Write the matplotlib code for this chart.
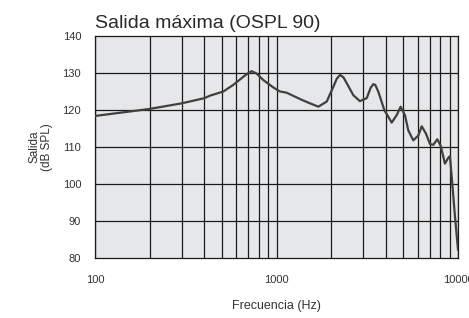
import matplotlib
matplotlib.use("Agg")
import matplotlib.pyplot as plt

plt.rcParams['font.family'] = ['Liberation Sans', 'DejaVu Sans']

# Values
freq = [100, 150, 200, 300, 400, 431, 509, 578, 657, 700, 730, 775, 846, 960,
        1045, 1135, 1265, 1400, 1496, 1700, 1892, 2056, 2150, 2240, 2340, 2440,
        2650, 2880, 3140, 3300, 3415, 3500, 3635, 3925, 4310, 4590, 4830, 5100,
        5320, 5670, 6040, 6310, 6660, 7010, 7310, 7690, 8030, 8470, 8840, 9030,
        9230, 9620, 10000]
level = [118.4, 119.5, 120.3, 121.8, 123.2, 123.9, 125.0, 126.8, 129.0, 130.0,
         130.5, 129.9, 128.1, 126.1, 125.0, 124.7, 123.6, 122.6, 122.0, 120.9,
         122.3, 126.3, 128.5, 129.5, 128.8, 127.2, 124.0, 122.4, 123.2, 126.0,
         127.0, 126.8, 125.0, 120.0, 116.6, 118.6, 120.9, 118.6, 114.5, 111.8,
         113.1, 115.6, 113.6, 110.8, 110.6, 112.1, 110.3, 105.5, 107.1, 107.5,
         102.0, 91.2, 82.2]

yticks = [80, 90, 100, 110, 120, 130, 140]
xticks = [100, 1000, 10000]
xtick_labels = ['100', '1000', '10000']
minor_x = [200, 300, 400, 500, 600, 700, 800, 900,
           2000, 3000, 4000, 5000, 6000, 7000, 8000, 9000]

fig = plt.figure(figsize=(4.69, 3.18), dpi=100)
ax = fig.add_axes([0.2026, 0.1887, 0.774, 0.698])
ax.set_facecolor('#e6e7e8')

ax.set_xscale('log')
ax.set_xlim(100, 10000)
ax.set_ylim(80, 140)

# grid
for f in minor_x + xticks:
    ax.axvline(f, color='#1a1a1a', lw=0.9, zorder=1)
for v in yticks[1:-1]:
    ax.axhline(v, color='#1a1a1a', lw=0.9, zorder=1)

ax.plot(freq, level, color='#404040', lw=1.6, solid_joinstyle='round',
        solid_capstyle='round', zorder=3)

for s in ax.spines.values():
    s.set_color('#1a1a1a')
    s.set_linewidth(0.9)

ax.set_xticks(xticks)
ax.set_xticklabels(xtick_labels)
ax.xaxis.set_minor_locator(matplotlib.ticker.NullLocator())
ax.set_yticks(yticks)
ax.tick_params(axis='both', length=0, labelsize=8, colors='#333333')
ax.tick_params(axis='x', pad=12)
ax.tick_params(axis='y', pad=10)

ax.set_xlabel('Frecuencia (Hz)', fontsize=9, color='#333333', labelpad=11)
ax.set_ylabel('Salida\n(dB SPL)', fontsize=8.5, color='#333333', linespacing=1.0)
ax.yaxis.set_label_coords(-0.116, 0.5)

ax.set_title('Salida máxima (OSPL 90)', loc='left', fontsize=14,
             color='#2a2a2a', pad=6)

fig.savefig('out.png', dpi=100)
